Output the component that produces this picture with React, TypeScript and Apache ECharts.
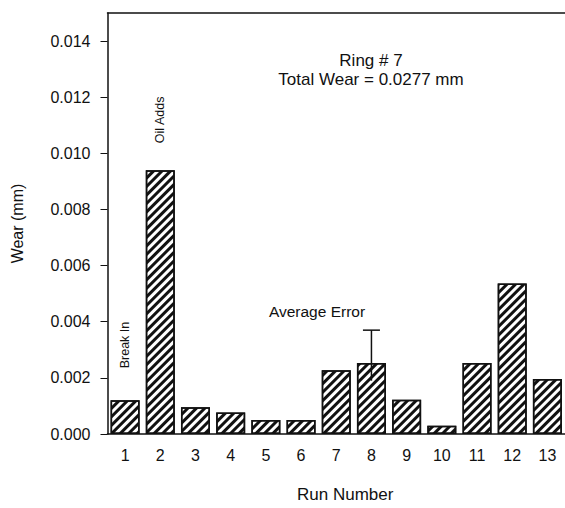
import React, { useEffect, useRef } from "react";
import * as echarts from "echarts";

const runNumbers = ["1", "2", "3", "4", "5", "6", "7", "8", "9", "10", "11", "12", "13"];
const wearValues = [0.0012, 0.0094, 0.00095, 0.00077, 0.0005, 0.0005, 0.00227, 0.00253, 0.00122, 0.00029, 0.00253, 0.00536, 0.00196];
const yTicks = [0, 0.002, 0.004, 0.006, 0.008, 0.01, 0.012, 0.014];
const errorBar = [[7, 0.0019, 0.0037]]; // category index, low, high
const barNotes: Record<number, string> = { 0: "Break In", 1: "Oil Adds" };
const titleLines = ["Ring # 7", "Total Wear = 0.0277 mm"];
const errorNote = "Average Error";

const FONT = "'Liberation Sans', Arial, Helvetica, sans-serif";
const INK = "#111";

export default function App() {
  const ref = useRef<HTMLDivElement>(null);
  useEffect(() => {
    if (!ref.current) return;
    const chart = echarts.init(ref.current, null, { renderer: "svg" });
    const barData = wearValues.map((v, i) => {
      const item: any = { value: v };
      if (barNotes[i]) {
        item.label = {
          show: true,
          formatter: barNotes[i],
          position: "top",
          rotate: 90,
          align: "left",
          verticalAlign: "middle",
          distance: i === 0 ? 32 : 27,
          fontSize: 12.5,
          fontFamily: FONT,
          color: INK,
        };
      }
      return item;
    });
    chart.setOption({
      animation: false,
      backgroundColor: "#fff",
      textStyle: { fontFamily: FONT, color: INK },
      title: {
        text: titleLines.join("\n"),
        left: 366,
        top: 46,
        textAlign: "center",
        textStyle: { fontSize: 17, fontWeight: "normal", lineHeight: 19, color: INK, fontFamily: FONT },
      },
      grid: { left: 107.5, right: -2.5, top: 13, bottom: 73.5, containLabel: false },
      xAxis: [
        {
          type: "category",
          data: runNumbers,
          position: "bottom",
          axisLine: { lineStyle: { color: INK, width: 1.5 } },
          axisTick: { show: false },
          axisLabel: { fontSize: 16, color: INK, margin: 13, fontFamily: FONT },
          name: "Run Number",
          nameLocation: "middle",
          nameGap: 52,
          nameTextStyle: { fontSize: 17, color: INK, fontFamily: FONT, padding: [0, 0, 0, 18] },
        },
        {
          type: "category",
          data: runNumbers,
          position: "top",
          axisLine: { lineStyle: { color: INK, width: 1.5 } },
          axisTick: { show: false },
          axisLabel: { show: false },
        },
      ],
      yAxis: {
        type: "value",
        min: 0,
        max: 0.015,
        interval: 0.001,
        splitLine: { show: false },
        axisLine: { show: true, lineStyle: { color: INK, width: 1.5 } },
        axisTick: { show: true, length: 7, customValues: yTicks, lineStyle: { color: INK } },
        axisLabel: {
          customValues: yTicks,
          fontSize: 16,
          color: INK,
          margin: 17,
          fontFamily: FONT,
          formatter: (v: number) => v.toFixed(3),
        },
        name: "Wear (mm)",
        nameLocation: "middle",
        nameRotate: 90,
        nameGap: 82,
        nameTextStyle: { fontSize: 16, color: INK, fontFamily: FONT },
      },
      graphic: [
        {
          type: "text",
          x: 317,
          y: 311,
          style: {
            text: errorNote,
            fontSize: 15.5,
            fontFamily: FONT,
            fill: INK,
            align: "center",
            verticalAlign: "middle",
          },
        },
      ],
      series: [
        {
          type: "bar",
          data: barData,
          barWidth: 29,
          itemStyle: {
            color: "#fff",
            borderColor: INK,
            borderWidth: 1.5,
            decal: {
              symbol: "rect",
              symbolSize: 1,
              color: INK,
              dashArrayX: [1, 0],
              dashArrayY: [2.2, 2.5],
              rotation: -Math.PI / 4,
            },
          },
        },
        {
          type: "custom",
          data: errorBar,
          z: 10,
          renderItem: (params: any, api: any) => {
            const x = api.value(0);
            const low = api.coord([x, api.value(1)]);
            const high = api.coord([x, api.value(2)]);
            const half = 8.5;
            return {
              type: "group",
              children: [
                {
                  type: "line",
                  shape: { x1: high[0], y1: high[1], x2: low[0], y2: low[1] },
                  style: { stroke: INK, lineWidth: 1.5 },
                },
                {
                  type: "line",
                  shape: { x1: high[0] - half, y1: high[1], x2: high[0] + half, y2: high[1] },
                  style: { stroke: INK, lineWidth: 1.5 },
                },
              ],
            };
          },
        },
      ],
    });
    return () => chart.dispose();
  }, []);
  return <div ref={ref} style={{ position: "absolute", left: 0, top: 0, width: 565, height: 508 }} />;
}
